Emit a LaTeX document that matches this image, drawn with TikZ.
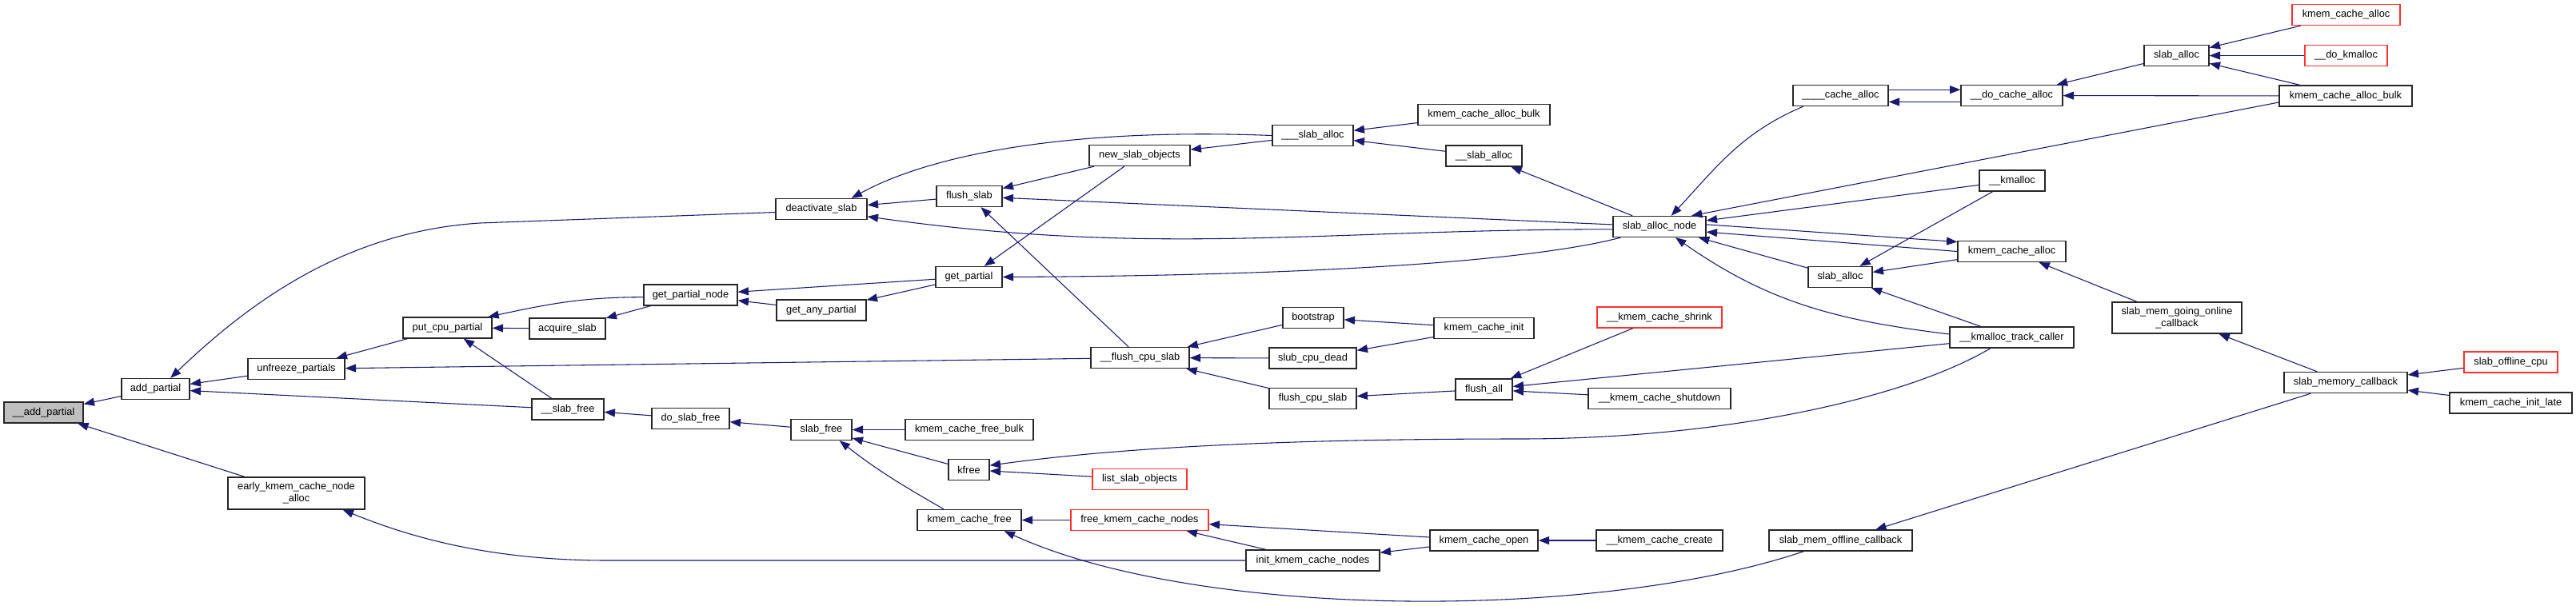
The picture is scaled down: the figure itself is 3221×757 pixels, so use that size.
\documentclass[tikz,border=0pt]{standalone}
\usepackage{fontspec}
\setmainfont{Liberation Sans}
\usepackage{xcolor}
\usepackage{tikz}
\usetikzlibrary{arrows.meta}

\definecolor{edgeblue}{HTML}{191970}
\definecolor{rootgray}{HTML}{BFBFBF}
\definecolor{linkred}{HTML}{FF3030}

\begin{document}
\begin{tikzpicture}[
    x=0.75pt, y=-0.75pt,
    every node/.style={font=\fontsize{9.6}{11.25}\selectfont},
    fnbox/.style={
      rectangle, draw=black!85, line width=1pt, fill=white,
      minimum height=19.5pt, inner sep=2pt, align=center
    },
    redbox/.style={fnbox, draw=linkred},
    rootbox/.style={fnbox, fill=rootgray},
    bw/.style={minimum width=#1*0.75pt},
    calls/.style={{Triangle[length=10pt,width=7.5pt]}-, draw=edgeblue, line width=0.8pt}
  ]
    \useasboundingbox (0,0) rectangle (3221,757);

    % ── add_partial side (left) ──
    \node[rootbox, bw=99] (addp0) at (54.5,516) {\_\_add\_partial};
    \node[fnbox, bw=85] (addp) at (194.5,486.5) {add\_partial};
    \node[fnbox, bw=121] (unfreeze) at (370.5,461.5) {unfreeze\_partials};
    \node[fnbox, bw=171, minimum height=30pt] (earlyk) at (370.5,617) {early\_kmem\_cache\_node\\\_alloc};
    \node[fnbox, bw=111] (putcpu) at (559.5,410) {put\_cpu\_partial};
    \node[fnbox, bw=95] (acquire) at (709.5,411) {acquire\_slab};
    \node[fnbox, bw=117] (getpn) at (863.5,369) {get\_partial\_node};
    \node[fnbox, bw=112] (getany) at (1027,388) {get\_any\_partial};
    \node[fnbox, bw=114] (deact) at (1027,261.5) {deactivate\_slab};
    \node[fnbox, bw=90] (sfree0) at (710,512) {\_\_slab\_free};
    \node[fnbox, bw=97] (doslab) at (863.5,523.5) {do\_slab\_free};
    \node[fnbox, bw=76] (slabfree) at (1027,537.5) {slab\_free};

    % ── middle columns ──
    \node[fnbox, bw=160] (kcfbulk) at (1212,537.5) {kmem\_cache\_free\_bulk};
    \node[fnbox, bw=51] (kfree) at (1211.5,587.5) {kfree};
    \node[redbox, bw=118] (listso) at (1425,599.5) {list\_slab\_objects};
    \node[fnbox, bw=130] (kcfree) at (1212,650.5) {kmem\_cache\_free};
    \node[redbox, bw=172] (freekcn) at (1425,650.5) {free\_kmem\_cache\_nodes};
    \node[fnbox, bw=123] (flushcpu0) at (1425.5,447.5) {\_\_flush\_cpu\_slab};
    \node[fnbox, bw=82] (flushslab) at (1212,245.5) {flush\_slab};
    \node[fnbox, bw=126] (newso) at (1425,194.5) {new\_slab\_objects};
    \node[fnbox, bw=83] (getp) at (1211.5,346.5) {get\_partial};
    \node[fnbox, bw=101] (slaballoc3) at (1641.5,169.5) {\_\_\_slab\_alloc};
    \node[fnbox, bw=76] (bootstrap) at (1642,397.5) {bootstrap};
    \node[fnbox, bw=109] (slubcpu) at (1641.5,448) {slub\_cpu\_dead};
    \node[fnbox, bw=109] (flushcpu) at (1641.5,498.5) {flush\_cpu\_slab};
    \node[fnbox, bw=167] (initkcn) at (1641.5,701) {init\_kmem\_cache\_nodes};
    \node[fnbox, bw=165] (kcabulkA) at (1855.5,143.5) {kmem\_cache\_alloc\_bulk};
    \node[fnbox, bw=95] (slaballoc2) at (1855.5,195) {\_\_slab\_alloc};
    \node[fnbox, bw=125] (kcinit) at (1855.5,410.5) {kmem\_cache\_init};
    \node[fnbox, bw=71] (flushall) at (1855.5,487) {flush\_all};
    \node[fnbox, bw=135] (kcopen) at (1855.5,676) {kmem\_cache\_open};
    \node[fnbox, bw=116] (san) at (2075,283.5) {slab\_alloc\_node};
    \node[redbox, bw=156] (kcshrink) at (2075,397) {\_\_kmem\_cache\_shrink};
    \node[fnbox, bw=178] (kcshut) at (2075,498.5) {\_\_kmem\_cache\_shutdown};
    \node[fnbox, bw=158] (kccreate) at (2075,676) {\_\_kmem\_cache\_create};

    % ── allocator side (right) ──
    \node[fnbox, bw=119] (cachealloc4) at (2301.5,119.5) {\_\_\_\_cache\_alloc};
    \node[fnbox, bw=80] (slaballocB) at (2301,346.5) {slab\_alloc};
    \node[fnbox, bw=179] (smoff) at (2301.5,676) {slab\_mem\_offline\_callback};
    \node[fnbox, bw=127] (docache) at (2515.5,119.5) {\_\_do\_cache\_alloc};
    \node[fnbox, bw=82] (kmalloc) at (2516,226) {\_\_kmalloc};
    \node[fnbox, bw=135] (kcalloc) at (2515.5,314.5) {kmem\_cache\_alloc};
    \node[fnbox, bw=155] (kmtrack) at (2515.5,422) {\_\_kmalloc\_track\_caller};
    \node[fnbox, bw=81] (slaballocA) at (2721.5,69.5) {slab\_alloc};
    \node[fnbox, bw=162, minimum height=29.25pt] (smgoc) at (2722,397.5) {slab\_mem\_going\_online\\\_callback};
    \node[redbox, bw=135] (kcallocR) at (2933.5,18.5) {kmem\_cache\_alloc};
    \node[redbox, bw=103] (dokmalloc) at (2933.5,69.5) {\_\_do\_kmalloc};
    \node[fnbox, bw=166] (kcabulkB) at (2933,120) {kmem\_cache\_alloc\_bulk};
    \node[fnbox, bw=154] (smcb) at (2933,478.5) {slab\_memory\_callback};
    \node[redbox, bw=117] (soffcpu) at (3139.5,453) {slab\_offline\_cpu};
    \node[fnbox, bw=153] (kcinitlate) at (3139.5,504) {kmem\_cache\_init\_late};

    % ── call edges (arrow at the callee) ──
    \draw[calls] (addp0) -- (addp);
    \draw[calls] (addp0) -- (earlyk);
    \draw[calls] ([xshift=14pt]addp.north) .. controls (310,380) and (430,290) .. (600,279) -- ([yshift=-3pt]deact.west);
    \draw[calls] (addp) -- (unfreeze);
    \draw[calls] (addp) -- (sfree0);
    \draw[calls] (unfreeze) -- (putcpu);
    \draw[calls] (unfreeze) -- (flushcpu0);
    \draw[calls] ([xshift=-4pt]putcpu.north east) to[out=12, in=180] ([yshift=-2pt]getpn.west);
    \draw[calls] (putcpu) -- (acquire);
    \draw[calls] (putcpu) -- (sfree0);
    \draw[calls] (acquire) -- (getpn);
    \draw[calls] (getpn) -- (getp);
    \draw[calls] (getpn) -- (getany);
    \draw[calls] (getany) -- (getp);
    \draw[calls] ([xshift=-15pt]deact.north east) .. controls (1170,190) and (1350,160) .. (slaballoc3.west);
    \draw[calls] (deact) -- (flushslab);
    \draw[calls] ([yshift=-7pt]deact.east) to[out=-8, in=180] ([yshift=-2.5pt]san.west);
    \draw[calls] (flushslab) -- (newso);
    \draw[calls] (flushslab) -- (san);
    \draw[calls] (flushslab) -- (flushcpu0);
    \draw[calls] (getp) -- (newso);
    \draw[calls] (getp.east) .. controls (1600,345) and (1900,330) .. ([xshift=7.5pt]san.south west);
    \draw[calls] (newso) -- (slaballoc3);
    \draw[calls] (slaballoc3) -- (kcabulkA);
    \draw[calls] (slaballoc3) -- (slaballoc2);
    \draw[calls] (slaballoc2) -- (san);
    \draw[calls] (flushcpu0) -- (bootstrap);
    \draw[calls] (flushcpu0) -- (slubcpu);
    \draw[calls] (flushcpu0) -- (flushcpu);
    \draw[calls] (bootstrap) -- (kcinit);
    \draw[calls] (slubcpu) -- (kcinit);
    \draw[calls] (flushcpu) -- (flushall);
    \draw[calls] (flushall) -- (kcshrink);
    \draw[calls] (flushall) -- (kmtrack);
    \draw[calls] (flushall) -- (kcshut);
    \draw[calls] ([xshift=11pt]san.north) to[out=47, in=203] ([xshift=10pt]cachealloc4.south west);
    \draw[calls] ([yshift=5.5pt]docache.west) -- ([yshift=5.5pt]cachealloc4.east);
    \draw[calls] ([yshift=-6pt]cachealloc4.east) -- ([yshift=-6pt]docache.west);
    \draw[calls] (docache) -- (slaballocA);
    \draw[calls] (docache) -- (kcabulkB);
    \draw[calls] ([xshift=-14pt]san.north east) -- ([yshift=-6pt]kcabulkB.west);
    \draw[calls] (slaballocA) -- (kcallocR);
    \draw[calls] (slaballocA) -- (dokmalloc);
    \draw[calls] (slaballocA) -- (kcabulkB);
    \draw[calls] (san) -- (kmalloc);
    \draw[calls] ([yshift=9pt]kcalloc.west) -- ([yshift=2pt]san.east);
    \draw[calls] ([yshift=-5pt]san.east) -- (kcalloc.west);
    \draw[calls] (san) -- (slaballocB);
    \draw[calls] ([xshift=15pt]san.south) to[out=-35, in=173] ([yshift=3pt]kmtrack.west);
    \draw[calls] (slaballocB) -- (kmalloc);
    \draw[calls] (slaballocB) -- (kcalloc);
    \draw[calls] (slaballocB) -- (kmtrack);
    \draw[calls] (kcalloc) -- (smgoc);
    \draw[calls] (smgoc) -- (smcb);
    \draw[calls] (smcb) -- (soffcpu);
    \draw[calls] (smcb) -- (kcinitlate);
    \draw[calls] (smoff) -- (smcb);
    \draw[calls] ([xshift=-16.5pt]kcfree.south east) .. controls (1500,776) and (2000,776) .. ([xshift=33pt]smoff.south west);
    \draw[calls] ([xshift=-21pt]earlyk.south east) .. controls (520,675) and (620,701) .. (760,701) -- (initkcn.west);
    \draw[calls] (freekcn) -- (kcopen);
    \draw[calls] (freekcn) -- (initkcn);
    \draw[calls] (initkcn) -- (kcopen);
    \draw[calls] (kcopen) -- (kccreate);
    \draw[calls] (kcfree) -- (freekcn);
    \draw[calls] (slabfree) -- (kcfbulk);
    \draw[calls] (slabfree) -- (kfree);
    \draw[calls] ([xshift=17pt]slabfree.south) to[out=-38, in=150] ([xshift=-24pt]kcfree.north);
    \draw[calls] (kfree) -- (listso);
    \draw[calls] ([yshift=4pt]kfree.east) .. controls (1400,560) and (1600,549) .. (1900,549) .. controls (2150,549) and (2380,500) .. ([xshift=-20pt]kmtrack.south);
    \draw[calls] (sfree0) -- (doslab);
    \draw[calls] (doslab) -- (slabfree);

  \end{tikzpicture}
\end{document}
